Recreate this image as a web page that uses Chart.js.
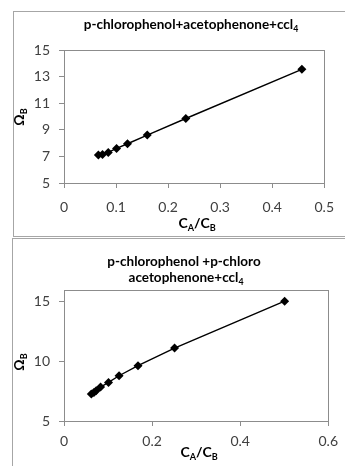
<!DOCTYPE html>
<html>
<head>
<meta charset="utf-8">
<script src="https://cdn.jsdelivr.net/npm/chart.js@4.4.1/dist/chart.umd.min.js"></script>
<style>
    body { margin: 0; background: #fff; width: 345px; height: 466px; overflow: hidden; position: relative; }
    .box { position: absolute; border: 1px solid #a6a6a6; }
    canvas { position: absolute; left: 0; }
</style>
</head>
<body>
<div class="box" style="left:13px; top:11px; width:340px; height:224px;"></div>
<div class="box" style="left:12px; top:238px; width:340px; height:240px;"></div>
<canvas id="topChart" width="345" height="237" style="top:0"></canvas>
<canvas id="bottomChart" width="345" height="229" style="top:237px"></canvas>
<script>
// p-chlorophenol + acetophenone + CCl4
var topX = [0.066, 0.074, 0.085, 0.101, 0.122, 0.160, 0.234, 0.457];
var topY = [7.10, 7.15, 7.30, 7.60, 7.95, 8.60, 9.85, 13.55];
var topXTicks = [0, 0.1, 0.2, 0.3, 0.4, 0.5];
var topYTicks = [5, 7, 9, 11, 13, 15];

// p-chlorophenol + p-chloro acetophenone + CCl4
var bottomX = [0.062, 0.068, 0.073, 0.083, 0.101, 0.125, 0.168, 0.251, 0.501];
var bottomY = [7.26, 7.40, 7.54, 7.85, 8.24, 8.80, 9.64, 11.12, 15.06];
var bottomXTicks = [0, 0.2, 0.4, 0.6];
var bottomYTicks = [5, 10, 15];

var FONT = 'Lato, "Open Sans", sans-serif';

// draw a text with subscript parts, e.g. [['C'],['A',1],['/C'],['B',1]]
function drawRich(ctx, parts, x, y, size, bold) {
    var w = 0;
    parts.forEach(function(p) {
        ctx.font = (bold ? 'bold ' : '') + (p[1] ? size * 0.65 : size) + 'px ' + FONT;
        w += ctx.measureText(p[0]).width;
    });
    var cx = x - w / 2;
    ctx.textAlign = 'left';
    ctx.textBaseline = 'alphabetic';
    parts.forEach(function(p) {
        ctx.font = (bold ? 'bold ' : '') + (p[1] ? size * 0.65 : size) + 'px ' + FONT;
        ctx.fillText(p[0], cx, p[1] ? y + size * 0.2 : y);
        cx += ctx.measureText(p[0]).width;
    });
}

// chart area frame, titles and axis titles
function decorPlugin(titleLines, titleY, xTitleY, yTitleY) {
    return {
        id: 'decor',
        afterDraw: function(chart) {
            var ctx = chart.ctx, a = chart.chartArea;
            ctx.save();
            ctx.strokeStyle = '#8c8c8c';
            ctx.lineWidth = 1;
            ctx.strokeRect(Math.round(a.left) + 0.5, Math.round(a.top) + 0.5,
                Math.round(a.right - a.left), Math.round(a.bottom - a.top));
            ctx.fillStyle = '#000';
            titleLines.forEach(function(line, i) {
                drawRich(ctx, line[0], line[1], titleY + i * 16, 13.5, true);
            });
            drawRich(ctx, [['C'], ['A', 1], ['/C'], ['B', 1]], (a.left + a.right) / 2 + 3, xTitleY, 14, true);
            ctx.translate(24, yTitleY);
            ctx.rotate(-Math.PI / 2);
            drawRich(ctx, [['\u03A9'], ['B', 1]], 0, 0, 14, true);
            ctx.restore();
        }
    };
}

function axisOptions(min, max, ticks, fit, pad) {
    return {
        type: 'linear',
        min: min,
        max: max,
        afterBuildTicks: function(scale) {
            scale.ticks = ticks.map(function(v) { return { value: v }; });
        },
        afterFit: fit,
        grid: { drawOnChartArea: false, color: '#8c8c8c', tickLength: 5 },
        border: { color: '#8c8c8c' },
        ticks: {
            color: '#404040',
            padding: pad,
            font: { family: FONT, size: 14 },
            callback: function(v) { return String(Math.round(v * 10) / 10); }
        }
    };
}

function makeChart(id, xs, ys, xMin, xMax, xTicks, yMin, yMax, yTicks, padding, xHeight, xPad, plugin) {
    var ctx = document.getElementById(id).getContext('2d');
    var points = xs.map(function(x, i) { return { x: x, y: ys[i] }; });
    return new Chart(ctx, {
        type: 'scatter',
        data: {
            datasets: [{
                data: points,
                showLine: true,
                borderColor: '#000',
                borderWidth: 1.4,
                backgroundColor: '#000',
                pointStyle: 'rectRot',
                pointRadius: 4.5,
                pointBorderWidth: 0
            }]
        },
        options: {
            responsive: false,
            animation: false,
            layout: { padding: padding },
            plugins: {
                legend: { display: false },
                tooltip: { enabled: false }
            },
            scales: {
                x: axisOptions(xMin, xMax, xTicks, function(s) { s.height = xHeight; }, xPad),
                y: axisOptions(yMin, yMax, yTicks, function(s) { s.width = 64; }, 9)
            }
        },
        plugins: [plugin]
    });
}

var topTitle = [[[['p-chlorophenol+acetophenone+ccl'], ['4', 1]], 191]];
makeChart('topChart', topX, topY, 0, 0.5, topXTicks, 5, 15, topYTicks,
    { top: 50, right: 15, bottom: 24, left: 0 }, 30, 11,
    decorPlugin(topTitle, 29, 228, 117));

var bottomTitle = [
    [[['p-chlorophenol +p-chloro']], 184],
    [[['acetophenone+ccl'], ['4', 1]], 186]
];
makeChart('bottomChart', bottomX, bottomY, 0, 0.6, bottomXTicks, 5, 16, bottomYTicks,
    { top: 53, right: 13, bottom: 0, left: 0 }, 45, 7,
    decorPlugin(bottomTitle, 29, 220, 125));
</script>
</body>
</html>
